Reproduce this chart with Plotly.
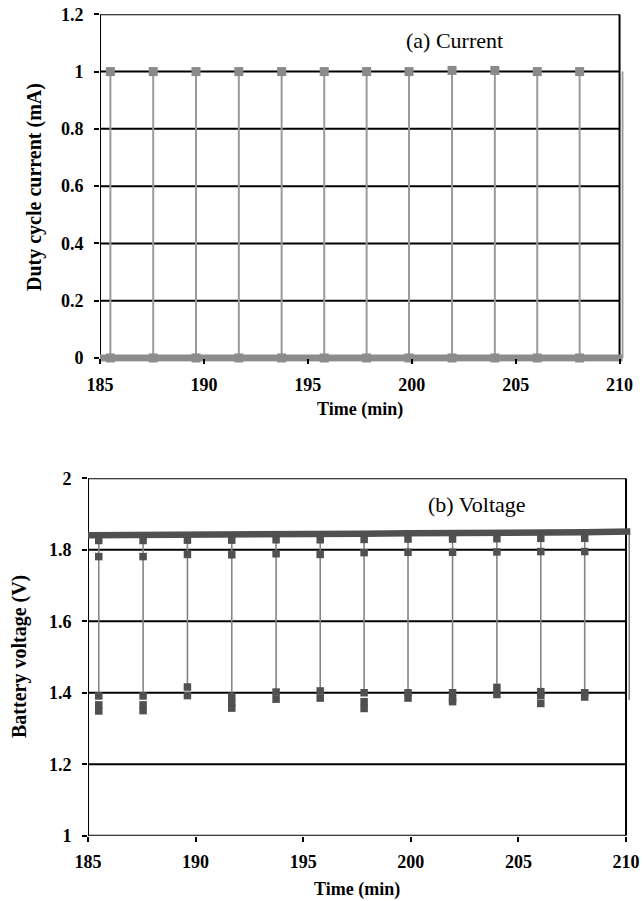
import plotly.graph_objects as go

# ---------------- data ----------------
time_min = [185.50, 187.56, 189.62, 191.68, 193.74, 195.79, 197.83, 199.87, 201.94, 204.00, 206.04, 208.08]
end_time = 210.15

# (a) current
current_peak = [1.000, 1.000, 1.000, 1.000, 1.000, 1.000, 1.000, 1.000, 1.004, 1.004, 1.000, 1.000]
current_base = [0.0, 0.0, 0.0, 0.0, 0.0, 0.0, 0.0, 0.0, 0.0, 0.0, 0.0, 0.0]
end_current = 1.0

# (b) voltage
rest_time = [185.0, 185.50, 187.56, 189.62, 191.68, 193.74, 195.79, 197.83, 199.87, 201.94, 204.00, 206.04, 208.08, 210.2]
rest_voltage = [1.841, 1.841, 1.842, 1.842, 1.843, 1.842, 1.843, 1.845, 1.846, 1.846, 1.847, 1.848, 1.849, 1.851]
volt_upper = [1.826, 1.826, 1.827, 1.827, 1.828, 1.828, 1.829, 1.830, 1.830, 1.831, 1.832, 1.832]
volt_mid = [1.781, 1.781, 1.787, 1.786, 1.789, 1.787, 1.792, 1.793, 1.793, 1.794, 1.795, 1.795]
volt_low_a = [1.391, 1.391, 1.416, 1.390, 1.402, 1.405, 1.400, 1.400, 1.400, 1.415, 1.403, 1.400]
volt_low_b = [1.366, 1.366, 1.392, 1.372, 1.382, 1.385, 1.375, 1.385, 1.382, 1.395, 1.392, 1.388]
volt_low_c = [1.349, 1.350, None, 1.357, None, None, 1.356, None, 1.375, None, 1.370, None]
end_voltage_low = 1.38

x_ticks = [185, 190, 195, 200, 205, 210]
y_ticks_a = [0, 0.2, 0.4, 0.6, 0.8, 1, 1.2]
y_ticks_b = [1, 1.2, 1.4, 1.6, 1.8, 2]

# ---------------- layout helpers ----------------
W, H = 643, 901
def fx(p):
    return p / W
def fy(p):
    return 1 - p / H

SERIF = "Liberation Serif"
tick_font = dict(family=SERIF, size=18, color="black", weight="bold")

fig = go.Figure()

# ---- (a) current ----
spx, spy = [], []
for t, b, p in zip(time_min, current_base, current_peak):
    spx += [t, t, None]
    spy += [b, p, None]
spx += [end_time, end_time]
spy += [0.0, end_current]

fig.add_trace(go.Scatter(x=[184.85, end_time], y=[0, 0], mode="lines",
                         line=dict(color="#8c8c8c", width=7),
                         xaxis="x", yaxis="y", showlegend=False, hoverinfo="skip"))
fig.add_trace(go.Scatter(x=spx, y=spy, mode="lines",
                         line=dict(color="#9a9a9a", width=2),
                         xaxis="x", yaxis="y", showlegend=False, hoverinfo="skip"))
fig.add_trace(go.Scatter(x=time_min, y=current_peak, mode="markers",
                         marker=dict(symbol="square", size=9, color="#8a8a8a"),
                         xaxis="x", yaxis="y", showlegend=False, cliponaxis=False))
fig.add_trace(go.Scatter(x=time_min, y=current_base, mode="markers",
                         marker=dict(symbol="square", size=9, color="#8c8c8c"),
                         xaxis="x", yaxis="y", showlegend=False, cliponaxis=False))

# ---- (b) voltage ----
vx, vy = [], []
for i, t in enumerate(time_min):
    vx += [t, t, None]
    vy += [rest_voltage[i + 1], volt_low_a[i], None]
vx += [end_time, end_time]
vy += [rest_voltage[-1], end_voltage_low]

fig.add_trace(go.Scatter(x=vx, y=vy, mode="lines",
                         line=dict(color="#858585", width=1.6),
                         xaxis="x2", yaxis="y2", showlegend=False, hoverinfo="skip"))
fig.add_trace(go.Scatter(x=rest_time, y=rest_voltage, mode="lines",
                         line=dict(color="#505050", width=6.5),
                         xaxis="x2", yaxis="y2", showlegend=False, hoverinfo="skip"))
for arr in [volt_upper, volt_mid, volt_low_a, volt_low_b, volt_low_c]:
    fig.add_trace(go.Scatter(x=time_min, y=arr, mode="markers",
                             marker=dict(symbol="square", size=7.5, color="#505050"),
                             xaxis="x2", yaxis="y2", showlegend=False, cliponaxis=False))

# ---------------- shapes (grid + frame) ----------------
shapes = []
for v in y_ticks_a:
    shapes.append(dict(type="line", xref="x", yref="y", x0=185, x1=210, y0=v, y1=v,
                       line=dict(color="black", width=2), layer="below"))
for xv in [185, 210]:
    shapes.append(dict(type="line", xref="x", yref="y", x0=xv, x1=xv, y0=0, y1=1.2,
                       line=dict(color="black", width=2), layer="below"))
for v in y_ticks_b:
    shapes.append(dict(type="line", xref="x2", yref="y2", x0=185, x1=210, y0=v, y1=v,
                       line=dict(color="black", width=2), layer="below"))
for xv in [185, 210]:
    shapes.append(dict(type="line", xref="x2", yref="y2", x0=xv, x1=xv, y0=1, y1=2,
                       line=dict(color="black", width=2), layer="below"))

axis_common = dict(showgrid=False, zeroline=False, showline=False, automargin=False,
                   ticks="outside", ticklen=5, tickwidth=2, tickcolor="black",
                   tickfont=tick_font, ticklabeloverflow="allow")

def label(text, x, y, size, angle=0, bold=True):
    return dict(text=f"<b>{text}</b>" if bold else text, x=x, y=y,
                xref="paper", yref="paper", xanchor="center", yanchor="middle",
                showarrow=False, textangle=angle,
                font=dict(family=SERIF, size=size, color="black"))

fig.update_layout(
    width=W, height=H,
    margin=dict(l=0, r=0, t=0, b=0, autoexpand=False),
    paper_bgcolor="white", plot_bgcolor="white",
    shapes=shapes,
    xaxis=dict(domain=[fx(100), fx(623.7)], range=[185, 210.2], tickvals=x_ticks,
               anchor="free", position=fy(358), ticklabelstandoff=5, **axis_common),
    yaxis=dict(domain=[fy(361.7), fy(14.3)], range=[-0.013, 1.2], tickvals=y_ticks_a,
               ticktext=["0", "0.2", "0.4", "0.6", "0.8", "1", "1.2"], anchor="x",
               ticklabelstandoff=7, **axis_common),
    xaxis2=dict(domain=[fx(88), fx(631.4)], range=[185, 210.25], tickvals=x_ticks,
                anchor="y2", ticklabelstandoff=5, **axis_common),
    yaxis2=dict(domain=[fy(835.7), fy(478.3)], range=[1, 2], tickvals=y_ticks_b,
                ticktext=["1", "1.2", "1.4", "1.6", "1.8", "2"], anchor="x2",
                ticklabelstandoff=7, **axis_common),
    annotations=[
        dict(text="(a) Current", x=202.07, y=1.107, xref="x", yref="y", showarrow=False,
             xanchor="center", yanchor="middle",
             font=dict(family=SERIF, size=22, color="black")),
        dict(text="(b) Voltage", x=203.09, y=1.926, xref="x2", yref="y2", showarrow=False,
             xanchor="center", yanchor="middle",
             font=dict(family=SERIF, size=22, color="black")),
        label("Time (min)", fx(360), fy(410), 18),
        label("Time (min)", fx(357), fy(889), 18),
        label("Duty cycle current (mA)", fx(35), fy(187), 20, angle=-90),
        label("Battery voltage (V)", fx(19), fy(657), 20, angle=-90),
    ],
)

# remove the page's default body margin so the figure fills the window exactly
fig.write_html("out.html", config={"displayModeBar": False},
               post_script="document.body.style.margin='0px';")
